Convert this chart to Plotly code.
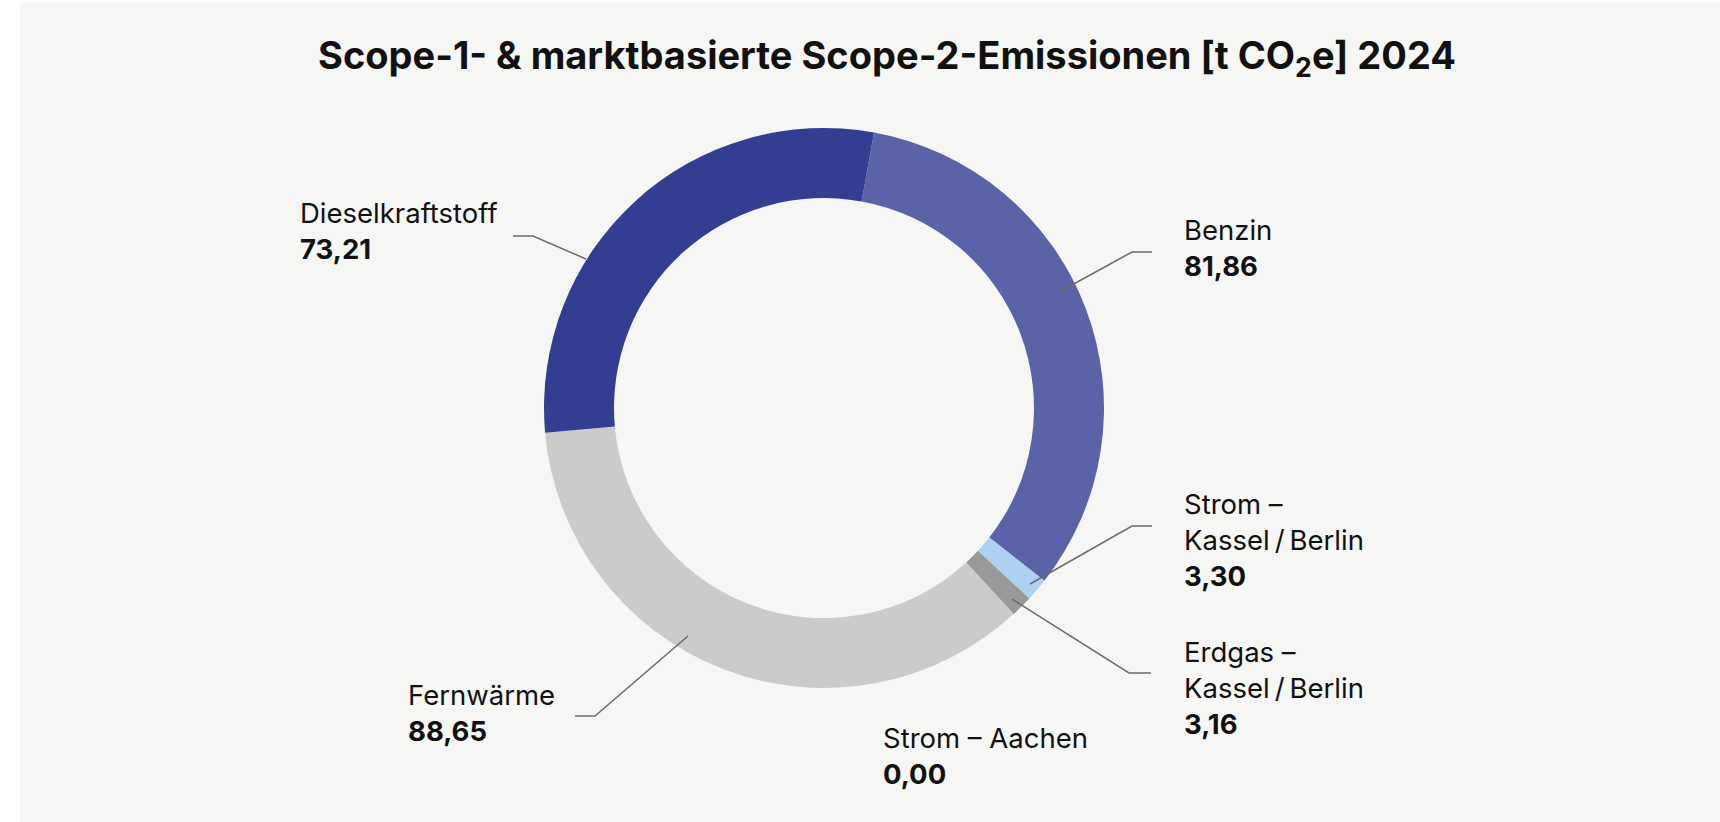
import plotly.graph_objects as go

# ---- data ----
categories = ["Benzin", "Strom – Kassel / Berlin", "Erdgas – Kassel / Berlin",
              "Strom – Aachen", "Fernwärme", "Dieselkraftstoff"]
values = [81.86, 3.30, 3.16, 0.00, 88.65, 73.21]
label_lines = [["Benzin"], ["Strom –", "Kassel\u2009/\u2009Berlin"], ["Erdgas –", "Kassel\u2009/\u2009Berlin"],
               ["Strom – Aachen"], ["Fernwärme"], ["Dieselkraftstoff"]]
colors = ["#5a63a8", "#acd1f1", "#999999", "#7f7f7f", "#cbcbcb", "#333d91"]
title_text = "Scope-1- & marktbasierte Scope-2-Emissionen [t CO<sub>2</sub>e] 2024"

# ---- layout (pixels) ----
W, H = 1720, 822
cx, cy, R = 824, 408, 280
# label anchor: left x, first-line baseline y
label_pos = [(1182, 242), (1182, 516), (1182, 664), (881, 750), (406, 707), (298, 225)]
leaders = [
    [(1061, 291), (1132, 252), (1152, 252)],
    [(1030, 584), (1132, 526), (1152, 526)],
    [(1012, 599), (1129, 673), (1151, 673)],
    None,
    [(688, 636), (595, 716), (575, 716)],
    [(586, 259), (533, 236), (513, 236)],
]

def px(x):
    return x / W

def py(y):
    return 1 - y / H

def fmt(v):
    return f"{v:.2f}".replace(".", ",")

fig = go.Figure()
fig.add_trace(go.Pie(
    labels=categories, values=values, sort=False, direction="clockwise",
    rotation=10.3, hole=0.75, textinfo="none", hoverinfo="label+value",
    marker=dict(colors=colors, line=dict(width=0)),
    domain=dict(x=[px(cx - R), px(cx + R)], y=[py(cy + R), py(cy - R)]),
    showlegend=False,
))

FS = 27.5
LH = 36
annotations = []
for lines, v, (lx, ly) in zip(label_lines, values, label_pos):
    all_lines = lines + [f"<b>{fmt(v)}</b>"]
    for i, t in enumerate(all_lines):
        annotations.append(dict(
            x=px(lx), y=py(ly + i * LH + 0.27 * FS), xref="paper", yref="paper",
            xanchor="left", yanchor="bottom", text=t, showarrow=False,
            font=dict(family="Inter", size=FS, color="#111111"), align="left",
        ))

shapes = [dict(type="rect", xref="paper", yref="paper", x0=px(20), x1=1, y0=0, y1=py(3),
               fillcolor="#f6f6f4", line=dict(width=0), layer="below")]
for ld in leaders:
    if ld is None:
        continue
    path = "M " + " L ".join(f"{px(x)},{py(y)}" for x, y in ld)
    shapes.append(dict(type="path", xref="paper", yref="paper", path=path,
                       line=dict(color="#6b6b6b", width=1.5)))

fig.update_layout(
    width=W, height=H, margin=dict(l=0, r=0, t=0, b=0),
    paper_bgcolor="#ffffff", plot_bgcolor="#ffffff",
    title=dict(text=title_text, x=px(887), xanchor="center", xref="paper",
               y=py(56), yanchor="middle", yref="paper",
               font=dict(family="Inter", size=38, color="#111111", weight="bold")),
    annotations=annotations, shapes=shapes,
)

fig.write_html("out.html", config={"displayModeBar": False},
               post_script="document.body.style.margin='0';document.body.style.overflow='hidden';")
